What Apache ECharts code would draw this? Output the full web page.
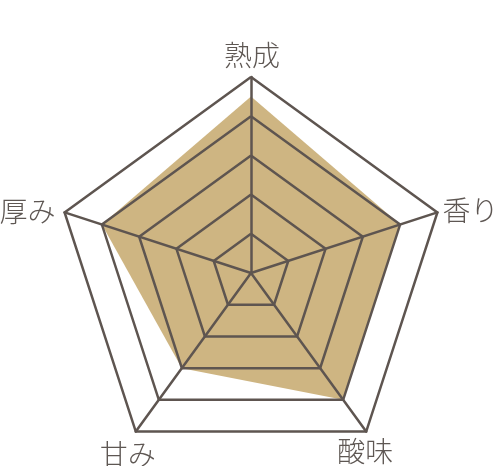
<!DOCTYPE html>
<html>
<head>
<meta charset="utf-8">
<script src="https://cdn.jsdelivr.net/npm/echarts@6/dist/echarts.min.js"></script>
<style>
  html, body { margin: 0; padding: 0; background: #fff; }
  #chart { width: 498px; height: 466px; }
</style>
</head>
<body>
<div id="chart"></div>
<script>
// radar axes, counter-clockwise from the top
var indicatorNames = ["熟成", "厚み", "甘み", "酸味", "香り"];
var indicatorMax = [5, 5, 5, 5, 5];
var tasteValues = [4.5, 4, 3, 4, 4];

var lineColor = "#5e5550";
var textColor = "#5e5753";

// offset of each label's centre from its axis end, in px
var labelShift = {
  "熟成": [1, -22],
  "厚み": [-37, -1],
  "甘み": [-8, 23],
  "酸味": [-1, 20],
  "香り": [33, -2]
};

var rich = {};
indicatorNames.forEach(function (name, i) {
  var dx = labelShift[name][0], dy = labelShift[name][1];
  rich["n" + i] = {
    fontSize: 28,
    fontWeight: 300,
    color: textColor,
    fontFamily: "Noto Sans CJK JP",
    padding: [
      dy > 0 ? 2 * dy : 0,
      dx < 0 ? -2 * dx : 0,
      dy < 0 ? -2 * dy : 0,
      dx > 0 ? 2 * dx : 0
    ]
  };
});

var myChart = echarts.init(document.getElementById("chart"));
var option = {
  backgroundColor: "#fff",
  radar: {
    z: 3,
    center: [251, 273],
    radius: 196,
    splitNumber: 5,
    shape: "polygon",
    nameGap: 0,
    indicator: indicatorNames.map(function (name, i) {
      return { name: name, max: indicatorMax[i] };
    }),
    axisName: {
      color: textColor,
      fontSize: 28,
      fontFamily: "Noto Sans CJK JP",
      align: "center",
      verticalAlign: "middle",
      formatter: function (name) {
        return "{n" + indicatorNames.indexOf(name) + "|" + name + "}";
      },
      rich: rich
    },
    axisLine: { lineStyle: { color: lineColor, width: 2.5 } },
    splitLine: { lineStyle: { color: lineColor, width: 2.5 } },
    splitArea: { show: false }
  },
  series: [
    {
      type: "radar",
      z: 1,
      symbol: "none",
      lineStyle: { width: 0 },
      areaStyle: { color: "#ceb582", opacity: 1 },
      data: [{ value: tasteValues }]
    }
  ]
};
myChart.setOption(option);
</script>
</body>
</html>
